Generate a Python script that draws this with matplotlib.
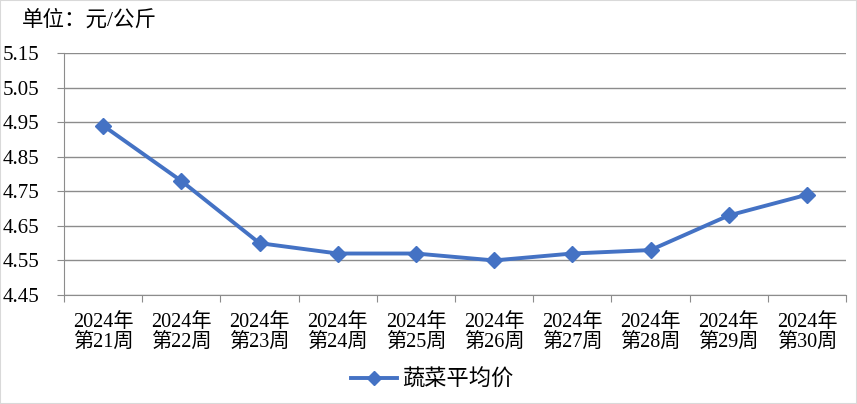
import matplotlib
matplotlib.use("Agg")
import matplotlib.pyplot as plt
from matplotlib.patches import Rectangle

# Chart data
weeks = ["2024年\n第21周", "2024年\n第22周", "2024年\n第23周", "2024年\n第24周",
         "2024年\n第25周", "2024年\n第26周", "2024年\n第27周", "2024年\n第28周",
         "2024年\n第29周", "2024年\n第30周"]
prices = [4.94, 4.78, 4.60, 4.57, 4.57, 4.55, 4.57, 4.58, 4.68, 4.74]
yticks = [4.45, 4.55, 4.65, 4.75, 4.85, 4.95, 5.05, 5.15]
series_name = "蔬菜平均价"
unit_text = "单位：元/公斤"

fonts = ["Liberation Serif", "Noto Sans CJK SC", "DejaVu Sans"]
plt.rcParams["font.family"] = fonts

fig = plt.figure(figsize=(8.57, 4.04), dpi=100)
ax = fig.add_axes([64 / 857, 1 - 295 / 404, (846 - 64) / 857, (295 - 53) / 404])

x = list(range(len(weeks)))
ax.plot(x, prices, color="#4472C4", linewidth=2.8, marker="D", markersize=8.5,
        label=series_name, zorder=3)

ax.set_xlim(-0.5, len(weeks) - 0.5)
ax.set_ylim(yticks[0], yticks[-1])
ax.set_yticks(yticks)
ax.set_yticklabels(["%.2f" % v for v in yticks], fontsize=15, ha="left")
ax.grid(axis="y", color="#8c8c8c", linewidth=1)
ax.tick_params(axis="y", length=5, color="#8c8c8c", pad=39.5)

# category labels between boundary ticks
ax.set_xticks([i - 0.5 for i in range(len(weeks) + 1)])
ax.set_xticklabels([])
ax.set_xticks(x, minor=True)
ax.set_xticklabels(weeks, minor=True, fontsize=14.5, linespacing=1.12)
ax.tick_params(axis="x", which="major", length=5, color="#8c8c8c")
ax.tick_params(axis="x", which="minor", length=0, pad=13)

for s in ["top", "right"]:
    ax.spines[s].set_visible(False)
ax.spines["left"].set_color("#8c8c8c")
ax.spines["bottom"].set_color("#8c8c8c")
ax.set_axisbelow(True)

fig.text(22 / 857, 1 - 20 / 404, unit_text, fontsize=15.5, va="center", ha="left")

leg = fig.legend(loc="center", bbox_to_anchor=(432 / 857, 1 - 380 / 404),
                 frameon=False, fontsize=16, handlelength=2.1, handletextpad=0.2,
                 markerscale=0.8)

# light grey outer border
fig.patches.append(Rectangle((0, 0), 1, 1, transform=fig.transFigure, fill=False,
                             edgecolor="#d9d9d9", linewidth=1.5))

fig.savefig("out.png", dpi=100)
